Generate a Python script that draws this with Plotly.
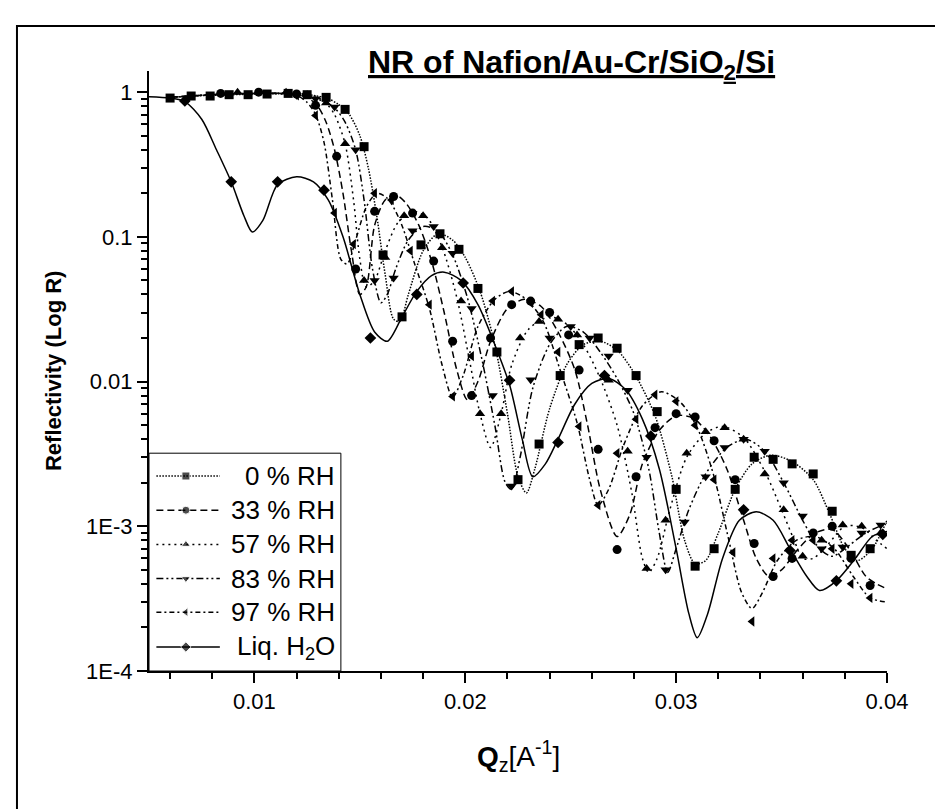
import plotly.graph_objects as go

# ---------------- data ----------------
# 0 % RH
q0 = [0.0060, 0.0070, 0.0079, 0.0088, 0.0097, 0.0106, 0.0116, 0.0125, 0.0134, 0.0143, 0.0152, 0.0161,
      0.0170, 0.0179, 0.0188, 0.0197, 0.0206, 0.0215, 0.0225, 0.0235, 0.0245, 0.0254, 0.0263, 0.0272,
      0.0281, 0.0291, 0.0300, 0.0309, 0.0318, 0.0328, 0.0337, 0.0346, 0.0355, 0.0365, 0.0374, 0.0383, 0.0392]
r0 = [0.91, 0.94, 0.94, 0.96, 0.96, 0.97, 0.98, 0.96, 0.92, 0.76, 0.42, 0.075,
      0.028, 0.088, 0.105, 0.082, 0.044, 0.016, 0.0021, 0.0037, 0.011, 0.018, 0.020, 0.017,
      0.011, 0.0062, 0.0018, 0.00053, 0.0007, 0.0018, 0.0030, 0.0029, 0.0027, 0.0023, 0.00127, 0.00063, 0.0007]
fq0 = [0.0060, 0.0070, 0.0080, 0.0090, 0.0100, 0.0110, 0.0120, 0.0128, 0.0135, 0.0140, 0.0145, 0.0150,
       0.0154, 0.0158, 0.0162, 0.0166, 0.0169, 0.0173, 0.0180, 0.0187, 0.0194, 0.0200, 0.0207, 0.0214,
       0.0220, 0.0225, 0.0229, 0.0233, 0.0240, 0.0248, 0.0256, 0.0264, 0.0272, 0.0280, 0.0290, 0.0298,
       0.0304, 0.0309, 0.0314, 0.0320, 0.0328, 0.0336, 0.0345, 0.0355, 0.0365, 0.0373, 0.0380, 0.0386,
       0.0393, 0.0400]
fr0 = [0.92, 0.94, 0.95, 0.96, 0.97, 0.975, 0.97, 0.95, 0.90, 0.82, 0.70, 0.50,
       0.30, 0.14, 0.055, 0.027, 0.026, 0.04, 0.08, 0.105, 0.095, 0.072, 0.042, 0.018,
       0.006, 0.0022, 0.0017, 0.0025, 0.0065, 0.013, 0.018, 0.019, 0.0165, 0.0115, 0.0058, 0.0022,
       0.0008, 0.00055, 0.00058, 0.0009, 0.0018, 0.0027, 0.0031, 0.0028, 0.0021, 0.0012, 0.0007, 0.00058,
       0.0007, 0.0011]

# 33 % RH
q33 = [0.0084, 0.0102, 0.0120, 0.0129, 0.0139, 0.0148, 0.0157, 0.0166, 0.0175, 0.0185, 0.0194, 0.0203,
       0.0212, 0.0222, 0.0231, 0.0240, 0.0249, 0.0254, 0.0263, 0.0272, 0.0281, 0.0290, 0.0300, 0.0309,
       0.0318, 0.0328, 0.0337, 0.0346, 0.0355, 0.0365, 0.0374, 0.0383, 0.0392]
r33 = [0.98, 1.0, 0.97, 0.81, 0.36, 0.06, 0.15, 0.19, 0.146, 0.068, 0.019, 0.008,
       0.02, 0.034, 0.036, 0.030, 0.021, 0.012, 0.0034, 0.00069, 0.0022, 0.0048, 0.006, 0.0057,
       0.0039, 0.0021, 0.00076, 0.00045, 0.0006, 0.0009, 0.001, 0.0006, 0.00039]
fq33 = [0.0060, 0.0080, 0.0100, 0.0120, 0.0126, 0.0130, 0.0134, 0.0138, 0.0142, 0.0146, 0.0150, 0.0153,
        0.0157, 0.0162, 0.0167, 0.0172, 0.0178, 0.0184, 0.0190, 0.0196, 0.0201, 0.0206, 0.0212, 0.0220,
        0.0228, 0.0236, 0.0244, 0.0252, 0.0258, 0.0264, 0.0272, 0.0278, 0.0284, 0.0292, 0.0300, 0.0308,
        0.0316, 0.0324, 0.0332, 0.0338, 0.0344, 0.0350, 0.0358, 0.0366, 0.0374, 0.0382, 0.0390, 0.0395, 0.0400]
fr33 = [0.92, 0.96, 0.98, 0.97, 0.90, 0.80, 0.62, 0.40, 0.20, 0.08, 0.04, 0.045,
        0.12, 0.18, 0.195, 0.17, 0.12, 0.068, 0.03, 0.012, 0.0075, 0.01, 0.019, 0.032,
        0.037, 0.033, 0.022, 0.012, 0.005, 0.0018, 0.00085, 0.0012, 0.0027, 0.0046, 0.0058, 0.0056,
        0.0042, 0.0025, 0.0011, 0.0006, 0.00045, 0.0005, 0.0007, 0.0009, 0.00095, 0.0007, 0.00045, 0.0004, 0.00037]

# 57 % RH
q57 = [0.0092, 0.0115, 0.0125, 0.0134, 0.0143, 0.0152, 0.0162, 0.0171, 0.0180, 0.0189, 0.0198, 0.0207,
       0.0217, 0.0226, 0.0235, 0.0244, 0.0253, 0.0268, 0.0277, 0.0286, 0.0295, 0.0305, 0.0314, 0.0323,
       0.0332, 0.0342, 0.0351, 0.0360, 0.0369, 0.0379, 0.0388, 0.0397]
r57 = [1.0, 1.0, 0.96, 0.84, 0.44, 0.05, 0.072, 0.14, 0.14, 0.084, 0.036, 0.006,
       0.006, 0.02, 0.026, 0.027, 0.021, 0.0102, 0.0033, 0.00051, 0.0011, 0.0032, 0.0045, 0.0048,
       0.004, 0.0023, 0.0013, 0.00062, 0.0008, 0.00102, 0.001, 0.0009]
fq57 = [0.0060, 0.0080, 0.0100, 0.0125, 0.0130, 0.0134, 0.0138, 0.0143, 0.0147, 0.0150, 0.0153, 0.0157,
        0.0162, 0.0168, 0.0175, 0.0182, 0.0189, 0.0196, 0.0202, 0.0207, 0.0212, 0.0217, 0.0222, 0.0230,
        0.0240, 0.0248, 0.0256, 0.0264, 0.0272, 0.0279, 0.0284, 0.0287, 0.0291, 0.0297, 0.0305, 0.0314,
        0.0322, 0.0332, 0.0342, 0.0350, 0.0356, 0.0360, 0.0365, 0.0372, 0.0380, 0.0388, 0.0395, 0.0400]
fr57 = [0.92, 0.96, 0.98, 0.97, 0.92, 0.84, 0.70, 0.44, 0.18, 0.07, 0.045, 0.05,
        0.08, 0.125, 0.15, 0.135, 0.085, 0.038, 0.014, 0.006, 0.0035, 0.006, 0.013, 0.023,
        0.028, 0.025, 0.018, 0.0105, 0.005, 0.0017, 0.0006, 0.00048, 0.0006, 0.0013, 0.003, 0.0044,
        0.0049, 0.0041, 0.0024, 0.0013, 0.0008, 0.0006, 0.0006, 0.00075, 0.001, 0.00098, 0.0008, 0.0007]

# 83 % RH
q83 = [0.0120, 0.0129, 0.0138, 0.0148, 0.0157, 0.0166, 0.0175, 0.0185, 0.0194, 0.0203, 0.0213, 0.0222,
       0.0231, 0.0240, 0.0250, 0.0259, 0.0268, 0.0277, 0.0286, 0.0295, 0.0304, 0.0314, 0.0323, 0.0332,
       0.0342, 0.0351, 0.0360, 0.0369, 0.0379, 0.0388, 0.0397]
r83 = [0.95, 0.90, 0.79, 0.40, 0.05, 0.052, 0.11, 0.118, 0.077, 0.032, 0.008, 0.0019,
       0.0103, 0.02, 0.024, 0.02, 0.015, 0.0087, 0.003, 0.0005, 0.00107, 0.0022, 0.0035, 0.004,
       0.0033, 0.0020, 0.00118, 0.0007, 0.00072, 0.0009, 0.00102]
fq83 = [0.0060, 0.0080, 0.0100, 0.0120, 0.0129, 0.0134, 0.0138, 0.0143, 0.0148, 0.0152, 0.0156, 0.0160,
        0.0163, 0.0167, 0.0173, 0.0180, 0.0187, 0.0194, 0.0201, 0.0208, 0.0214, 0.0219, 0.0222, 0.0226,
        0.0232, 0.0240, 0.0248, 0.0256, 0.0264, 0.0272, 0.0280, 0.0287, 0.0292, 0.0296, 0.0300, 0.0306,
        0.0314, 0.0324, 0.0333, 0.0342, 0.0351, 0.0360, 0.0368, 0.0374, 0.0380, 0.0390, 0.0400]
fr83 = [0.92, 0.96, 0.98, 0.96, 0.90, 0.85, 0.78, 0.62, 0.40, 0.18, 0.06, 0.035,
        0.04, 0.06, 0.095, 0.118, 0.11, 0.075, 0.038, 0.014, 0.005, 0.002, 0.0018, 0.003,
        0.009, 0.018, 0.024, 0.022, 0.016, 0.0105, 0.006, 0.0025, 0.0009, 0.00048, 0.0007, 0.0013,
        0.0023, 0.0035, 0.0040, 0.0033, 0.0020, 0.0011, 0.0007, 0.00062, 0.0007, 0.0009, 0.00105]

# 97 % RH
q97 = [0.0120, 0.0129, 0.0138, 0.0147, 0.0157, 0.0165, 0.0174, 0.0183, 0.0194, 0.0203, 0.0213, 0.0222,
       0.0231, 0.0236, 0.0244, 0.0254, 0.0263, 0.0272, 0.0281, 0.0290, 0.0300, 0.0309, 0.0318, 0.0327,
       0.0336, 0.0346, 0.0355, 0.0365, 0.0374, 0.0383, 0.0392]
r97 = [0.95, 0.69, 0.146, 0.089, 0.20, 0.18, 0.08, 0.034, 0.0079, 0.015, 0.036, 0.042,
       0.035, 0.029, 0.016, 0.0049, 0.0014, 0.0032, 0.0055, 0.0081, 0.0073, 0.005, 0.0021, 0.00066,
       0.00022, 0.0006, 0.0008, 0.0008, 0.0007, 0.0004, 0.00032]
fq97 = [0.0060, 0.0080, 0.0100, 0.0115, 0.0120, 0.0125, 0.0129, 0.0133, 0.0137, 0.0141, 0.0144, 0.0148,
        0.0153, 0.0158, 0.0163, 0.0169, 0.0176, 0.0183, 0.0189, 0.0194, 0.0199, 0.0206, 0.0214, 0.0221,
        0.0229, 0.0237, 0.0245, 0.0253, 0.0259, 0.0263, 0.0268, 0.0275, 0.0284, 0.0293, 0.0302, 0.0310,
        0.0318, 0.0325, 0.0331, 0.0336, 0.0341, 0.0348, 0.0357, 0.0366, 0.0375, 0.0384, 0.0392, 0.0400]
fr97 = [0.92, 0.96, 0.98, 0.98, 0.95, 0.85, 0.70, 0.45, 0.18, 0.07, 0.065, 0.095,
        0.16, 0.20, 0.185, 0.13, 0.065, 0.032, 0.013, 0.0078, 0.011, 0.024, 0.037, 0.042,
        0.037, 0.026, 0.012, 0.0052, 0.0021, 0.0014, 0.0018, 0.0036, 0.0068, 0.0085, 0.0072, 0.0048,
        0.0022, 0.0008, 0.00035, 0.00027, 0.00035, 0.00058, 0.0008, 0.00085, 0.0007, 0.00045, 0.00032, 0.0003]

# Liquid H2O
qliq = [0.0067, 0.0089, 0.0111, 0.0133, 0.0155, 0.0177, 0.0199, 0.0221, 0.0244, 0.0266, 0.0288,
        0.0332, 0.0354, 0.0376, 0.0398]
rliq = [0.87, 0.24, 0.24, 0.21, 0.020, 0.040, 0.048, 0.0102, 0.0038, 0.011, 0.0042,
        0.0013, 0.00068, 0.00042, 0.00088]
fqliq = [0.0050, 0.0060, 0.0067, 0.0075, 0.0082, 0.0089, 0.0095, 0.0099, 0.0104, 0.0111, 0.0120, 0.0128,
         0.0135, 0.0142, 0.0150, 0.0157, 0.0163, 0.0170, 0.0177, 0.0184, 0.0190, 0.0198, 0.0206, 0.0214,
         0.0221, 0.0227, 0.0232, 0.0238, 0.0244, 0.0252, 0.0260, 0.0268, 0.0276, 0.0284, 0.0292, 0.0300,
         0.0306, 0.0310, 0.0315, 0.0322, 0.0330, 0.0338, 0.0346, 0.0354, 0.0362, 0.0368, 0.0376, 0.0385,
         0.0393, 0.0400]
frliq = [0.93, 0.91, 0.86, 0.65, 0.40, 0.24, 0.14, 0.108, 0.13, 0.23, 0.26, 0.24,
         0.18, 0.10, 0.04, 0.022, 0.019, 0.028, 0.042, 0.054, 0.057, 0.05, 0.034, 0.018,
         0.0095, 0.004, 0.0022, 0.0027, 0.004, 0.007, 0.0097, 0.0105, 0.0088, 0.0055, 0.0025, 0.0007,
         0.00025, 0.00017, 0.00025, 0.0006, 0.0011, 0.00126, 0.0011, 0.0007, 0.00045, 0.00036, 0.00042, 0.0006,
         0.00085, 0.00092]

names = ["0 % RH", "33 % RH", "57 % RH", "83 % RH", "97 % RH", "Liq. H<sub>2</sub>O"]
symbols = ["square", "circle", "triangle-up", "triangle-down", "triangle-left", "diamond"]
dashes = ["1.5px,1.5px", "7px,4px", "2px,4px", "7px,3px,2px,3px,2px,3px", "5px,3px,2px,3px", "solid"]
data = [(q0, r0, fq0, fr0), (q33, r33, fq33, fr33), (q57, r57, fq57, fr57),
        (q83, r83, fq83, fr83), (q97, r97, fq97, fr97), (qliq, rliq, fqliq, frliq)]

# legend layout (in legend-axis units 0..1 over the plot area)
leg_rows = [0.325, 0.268, 0.211, 0.154, 0.098, 0.040]
leg_line_x = [0.010, 0.050, 0.096]
leg_text_x = 0.255

fig = go.Figure()
for name, sym, dash, (qm, rm, qf, rf) in zip(names, symbols, dashes, data):
    fig.add_trace(go.Scatter(
        x=qf, y=rf, mode="lines", name=name,
        line=dict(color="black", width=1.5, dash=dash, shape="spline", smoothing=0.8),
        showlegend=False, hoverinfo="skip"))
    fig.add_trace(go.Scatter(
        x=qm, y=rm, mode="markers", name=name, showlegend=False,
        marker=dict(symbol=sym, size=9, color="black")))

# custom legend drawn on an overlay axis
for name, sym, dash, yrow in zip(names, symbols, dashes, leg_rows):
    fig.add_trace(go.Scatter(
        x=leg_line_x, y=[yrow] * 3, xaxis="x2", yaxis="y2", mode="lines+markers",
        line=dict(color="black", width=1.5, dash=dash),
        marker=dict(symbol=sym, size=[0, 8, 0], color="black"),
        showlegend=False, hoverinfo="skip"))

ytick_vals = [1e-4, 1e-3, 1e-2, 1e-1, 1]
ytick_text = ["1E-4", "1E-3", "0.01", "0.1", "1"]
yminor = [m * 10 ** e for e in range(-4, 0) for m in range(2, 10)]
xminor = [0.006, 0.008, 0.012, 0.014, 0.016, 0.018, 0.022, 0.024, 0.026, 0.028, 0.032, 0.034, 0.036, 0.038]

annotations = [
    dict(text="<b><u>NR of Nafion/Au-Cr/SiO<sub>2</sub>/Si</u></b>", xref="paper", yref="paper",
         x=0.572, y=1.01, xanchor="center", yanchor="middle", showarrow=False, font=dict(size=32)),
    dict(text="<b>Reflectivity (Log R)</b>", xref="paper", yref="paper", x=-0.13, y=0.5,
         textangle=-90, xanchor="center", yanchor="middle", showarrow=False, font=dict(size=22)),
    dict(text="<b>Q</b><sub>z</sub>[A<sup>-1</sup>]", xref="paper", yref="paper", x=0.5, y=-0.142,
         xanchor="center", yanchor="middle", showarrow=False, font=dict(size=28)),
]
for name, yrow in zip(names, leg_rows):
    annotations.append(dict(text=name, xref="x2", yref="y2", x=leg_text_x, y=yrow,
                            xanchor="right", yanchor="middle", showarrow=False, font=dict(size=26)))

fig.update_layout(
    width=943, height=809,
    margin=dict(l=141, r=64, t=63, b=146),
    paper_bgcolor="white", plot_bgcolor="white",
    font=dict(family="Liberation Sans, Arial, sans-serif", color="black", size=20),
    showlegend=False,
    xaxis=dict(range=[0.005, 0.04], showline=True, linecolor="black", linewidth=2,
               ticks="outside", ticklen=10, tickwidth=2, tickcolor="black",
               tickvals=[0.01, 0.02, 0.03, 0.04], ticktext=["0.01", "0.02", "0.03", "0.04"],
               minor=dict(ticks="outside", ticklen=6, tickwidth=1.5, tickcolor="black", tickvals=xminor),
               showgrid=False, zeroline=False, tickfont=dict(size=22)),
    yaxis=dict(type="log", range=[-4, 0.146], showline=True, linecolor="black", linewidth=2,
               ticks="outside", ticklen=10, tickwidth=2, tickcolor="black",
               tickvals=ytick_vals, ticktext=ytick_text,
               minor=dict(ticks="outside", ticklen=6, tickwidth=1.5, tickcolor="black", tickvals=yminor),
               showgrid=False, zeroline=False, tickfont=dict(size=22)),
    xaxis2=dict(overlaying="x", range=[0, 1], visible=False, fixedrange=True),
    yaxis2=dict(overlaying="y", range=[0, 1], visible=False, fixedrange=True),
    annotations=annotations,
    shapes=[
        dict(type="rect", xref="paper", yref="paper", x0=-0.1789, x1=1.0732, y0=-0.26, y1=1.075,
             line=dict(color="black", width=2), fillcolor="rgba(0,0,0,0)", layer="below"),
        dict(type="rect", xref="paper", yref="paper", x0=0, x1=0.26, y0=0, y1=0.363,
             line=dict(color="black", width=1), fillcolor="rgba(0,0,0,0)", layer="below"),
    ],
)

fig.write_html("out.html")
